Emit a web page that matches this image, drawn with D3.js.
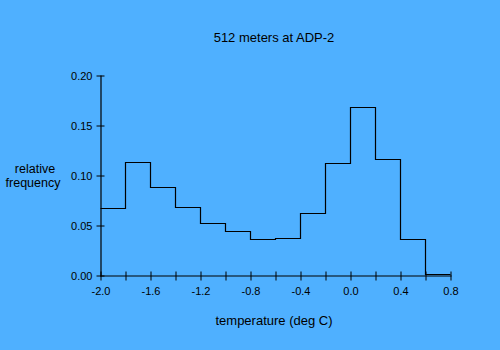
<!DOCTYPE html>
<html>
<head>
<meta charset="utf-8">
<script src="https://cdn.jsdelivr.net/npm/d3@7/dist/d3.min.js"></script>
<style>
  html, body { margin: 0; padding: 0; background: #4fb0ff; }
  svg { display: block; }
  text { font-family: "Liberation Sans", Arial, sans-serif; fill: #000; }
</style>
</head>
<body>
<svg id="chart" width="500" height="350"></svg>
<script>
// Histogram of temperature readings, 0.2 deg C bins
const binEdges = [-2.0, -1.8, -1.6, -1.4, -1.2, -1.0, -0.8, -0.6, -0.4, -0.2, 0.0, 0.2, 0.4, 0.6, 0.8];
const frequencies = [0.067, 0.113, 0.088, 0.068, 0.052, 0.044, 0.036, 0.037, 0.062, 0.112, 0.168, 0.116, 0.036, 0.001];
const xTickValues = [-2.0, -1.8, -1.6, -1.4, -1.2, -1.0, -0.8, -0.6, -0.4, -0.2, 0.0, 0.2, 0.4, 0.6, 0.8];
const xTickLabels = ["-2.0", "", "-1.6", "", "-1.2", "", "-0.8", "", "-0.4", "", "0.0", "", "0.4", "", "0.8"];
const yTickValues = [0.00, 0.05, 0.10, 0.15, 0.20];
const yTickLabels = ["0.00", "0.05", "0.10", "0.15", "0.20"];

const svg = d3.select("#chart");

const x = d3.scaleLinear().domain([-2.0, 0.8]).range([100.5, 450.5]);
const y = d3.scaleLinear().domain([0, 0.2]).range([275.5, 75.5]);

// x axis with ticks crossing the baseline
const xAxis = svg.append("g")
  .attr("transform", `translate(0,${y(0)})`)
  .call(d3.axisBottom(x)
    .tickValues(xTickValues)
    .tickSize(5)
    .tickSizeOuter(0)
    .tickPadding(7)
    .tickFormat((d, i) => xTickLabels[i]));
xAxis.select(".domain").attr("stroke", "#000").attr("stroke-width", 1.2);
xAxis.selectAll(".tick line").attr("y1", -4).attr("stroke", "#000").attr("stroke-width", 1);
xAxis.selectAll(".tick text")
  .attr("font-size", 11)
  .attr("font-family", "Liberation Sans, Arial, sans-serif");

// y axis with ticks crossing the left edge
const yAxis = svg.append("g")
  .attr("transform", `translate(${x(-2.0)},0)`)
  .call(d3.axisLeft(y)
    .tickValues(yTickValues)
    .tickSize(4)
    .tickSizeOuter(0)
    .tickPadding(4)
    .tickFormat((d, i) => yTickLabels[i]));
yAxis.select(".domain").attr("stroke", "#000").attr("stroke-width", 1.2);
yAxis.selectAll(".tick line").attr("x1", 4).attr("stroke", "#000").attr("stroke-width", 1);
yAxis.selectAll(".tick text")
  .attr("font-size", 11)
  .attr("font-family", "Liberation Sans, Arial, sans-serif");
svg.selectAll(".domain").attr("stroke-linecap", "square");

// step outline of the histogram
const path = d3.path();
path.moveTo(x(binEdges[0]), y(frequencies[0]));
frequencies.forEach((f, i) => {
  if (i > 0) path.lineTo(x(binEdges[i]), y(f));
  path.lineTo(x(binEdges[i + 1]), y(f));
});
svg.append("path")
  .attr("d", path.toString())
  .attr("fill", "none")
  .attr("stroke", "#000")
  .attr("stroke-width", 1.2);

// titles
svg.append("text")
  .attr("x", 274).attr("y", 42)
  .attr("text-anchor", "middle")
  .attr("font-size", 13)
  .text("512 meters at ADP-2");

svg.append("text")
  .attr("x", 274).attr("y", 325)
  .attr("text-anchor", "middle")
  .attr("font-size", 13)
  .text("temperature (deg C)");

const yLabel = svg.append("text")
  .attr("text-anchor", "middle")
  .attr("font-size", 12.5);
yLabel.append("tspan").attr("x", 35).attr("y", 173).text("relative");
yLabel.append("tspan").attr("x", 33).attr("y", 187).text("frequency");
</script>
</body>
</html>
